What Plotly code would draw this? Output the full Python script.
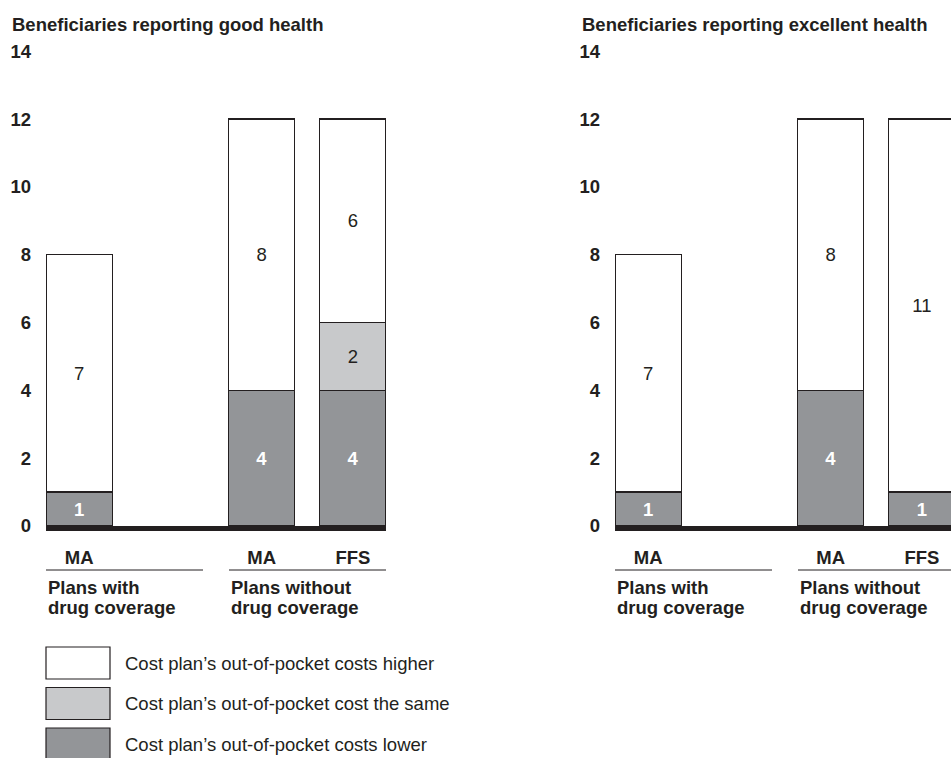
import plotly.graph_objects as go

# ---- data ----
categories = ["MA", "MA", "FFS"]
cat_pos = [0, 2, 3]
series_names = [
    "Cost plan\u2019s out-of-pocket costs lower",
    "Cost plan\u2019s out-of-pocket cost the same",
    "Cost plan\u2019s out-of-pocket costs higher",
]
good_lower = [1, 4, 4]
good_same = [0, 0, 2]
good_higher = [7, 8, 6]
exc_lower = [1, 4, 1]
exc_same = [0, 0, 0]
exc_higher = [7, 8, 11]
panel_titles = ["Beneficiaries reporting good health", "Beneficiaries reporting excellent health"]
group_labels = [["Plans with", "drug coverage"], ["Plans without", "drug coverage"]]
y_ticks = [0, 2, 4, 6, 8, 10, 12, 14]

# ---- styles ----
FONT = "Liberation Sans, Arial, Helvetica, sans-serif"
FS = 18.5
INK = "#231f20"
colors = ["#939598", "#c8c9cb", "#ffffff"]
text_colors = ["#ffffff", INK, INK]
text_weights = ["bold", "normal", "normal"]

W, H = 951, 758
def px(x):
    return x / W
def py(y):
    return 1 - y / H

Y0, Y14 = 526, 51.2
UNIT = 91.25
BAR_W = 66 / UNIT
left_dom = [px(46), px(386)]
right_dom = [px(615), 1.0]
xr_left = [-0.363, -0.363 + (386 - 46) / UNIT]
xr_right = [-0.363, -0.363 + (951 - 615) / UNIT]

fig = go.Figure()

panels = [
    ("x", "y", [good_lower, good_same, good_higher]),
    ("x2", "y2", [exc_lower, exc_same, exc_higher]),
]
for xa, ya, stacks in panels:
    for i, vals in enumerate(stacks):
        fig.add_trace(go.Bar(
            x=cat_pos,
            y=[v if v else None for v in vals],
            text=[str(v) if v else "" for v in vals],
            textposition="inside",
            insidetextanchor="middle",
            textangle=0,
            textfont=dict(family=FONT, size=FS, color=text_colors[i], weight=text_weights[i]),
            marker=dict(color=colors[i], line=dict(color=INK, width=1.2)),
            width=BAR_W,
            name=series_names[i],
            showlegend=False,
            xaxis=xa, yaxis=ya,
            hoverinfo="skip",
        ))

ydom = [py(Y0), py(Y14)]
common_y = dict(
    range=[0, 14], tickvals=y_ticks, showgrid=False, zeroline=False, showline=False,
    ticks="", ticklabelstandoff=14, automargin=False,
    tickfont=dict(family=FONT, size=FS, color=INK, weight="bold"),
    domain=ydom,
)
common_x = dict(
    tickvals=cat_pos, ticktext=categories, showgrid=False, zeroline=False, automargin=False,
    showline=True, linecolor=INK, linewidth=5, ticks="", ticklabelstandoff=11,
    tickfont=dict(family=FONT, size=FS, color=INK, weight="bold"),
)
fig.update_layout(
    template="none",
    barmode="stack",
    width=W, height=H,
    margin=dict(l=0, r=0, t=0, b=0, pad=0, autoexpand=False),
    paper_bgcolor="white", plot_bgcolor="white",
    font=dict(family=FONT, size=FS, color=INK),
    xaxis=dict(domain=left_dom, range=xr_left, anchor="y", **common_x),
    yaxis=dict(anchor="x", **common_y),
    xaxis2=dict(domain=right_dom, range=xr_right, anchor="y2", **common_x),
    yaxis2=dict(anchor="x2", **common_y),
)

annotations = []
shapes = []
# panel titles
for title, x0 in zip(panel_titles, [10, 580]):
    annotations.append(dict(text=title, x=px(x0), y=py(24), xref="paper", yref="paper",
                            xanchor="left", yanchor="middle", showarrow=False,
                            font=dict(family=FONT, size=FS, color=INK, weight="bold")))
# group underlines and labels
for base in [46, 615]:
    for (a, b), lines in zip([(0, 157), (183, 340)], group_labels):
        x1 = base + a
        x2 = min(base + b, W)
        shapes.append(dict(type="line", xref="paper", yref="paper",
                           x0=px(x1), x1=px(x2), y0=py(570), y1=py(570),
                           line=dict(color=INK, width=1)))
        for j, line in enumerate(lines):
            annotations.append(dict(text=line, x=px(x1), y=py(587 + 20 * j), xref="paper", yref="paper",
                                    xanchor="left", yanchor="middle", align="left", showarrow=False,
                                    font=dict(family=FONT, size=FS, color=INK, weight="bold")))
# legend (higher, same, lower top-to-bottom)
legend_order = [2, 1, 0]
for k, i in enumerate(legend_order):
    top = 647 + k * 40.5
    shapes.append(dict(type="rect", xref="paper", yref="paper",
                       x0=px(46), x1=px(110), y0=py(top), y1=py(top + 32),
                       fillcolor=colors[i], line=dict(color=INK, width=1.2)))
    annotations.append(dict(text=series_names[i], x=px(123), y=py(top + 16), xref="paper", yref="paper",
                            xanchor="left", yanchor="middle", showarrow=False,
                            font=dict(family=FONT, size=FS, color=INK)))

fig.update_layout(annotations=annotations, shapes=shapes)
fig.write_html("out.html", config={"displayModeBar": False},
               post_script="document.body.style.margin='0';document.body.style.overflow='hidden';")
